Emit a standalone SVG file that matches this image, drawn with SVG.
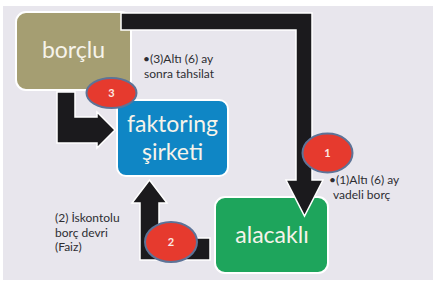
<svg xmlns="http://www.w3.org/2000/svg" width="441" height="286" viewBox="0 0 441 286">
<style>
.box{stroke:#ffffff;stroke-width:2}
.big{font-family:Lato,"Open Sans",sans-serif;font-size:23px;fill:#f6f3ea;text-anchor:middle}
.arrow{fill:#1b1a1d;stroke:#ffffff;stroke-width:1.5;stroke-linejoin:miter}
.badge{fill:#e63a2e;stroke:#5d7397;stroke-width:2}
.num{font-family:Lato,"Open Sans",sans-serif;font-size:11px;font-weight:bold;fill:#fbe9e4;text-anchor:middle}
.lbl{font-family:Lato,"Open Sans",sans-serif;font-size:12px;fill:#2e2e33}
</style>
<rect x="0" y="0" width="441" height="286" fill="#ffffff"/>
<rect x="3" y="6" width="430" height="274" fill="#e8e6ed"/>
<g id="borclu">
<rect class="box" x="16" y="12" width="115" height="78" rx="10" fill="#a59e72"/>
<text class="big" x="73.5" y="58">borçlu</text>
</g>
<g id="faktoring">
<rect class="box" x="117" y="100" width="111" height="76" rx="9" fill="#0f86c5"/>
<text class="big" x="172.5" y="132">faktoring</text>
<text class="big" x="172.5" y="160">şirketi</text>
</g>
<g id="alacakli">
<rect class="box" x="215" y="197" width="113" height="76" rx="10" fill="#1ea55c"/>
<text class="big" x="272" y="243">alacaklı</text>
</g>
<g id="connectors">
<path class="arrow" d="M121,13 H312 V180 H323 L304.5,216 L286,180 H296 V30 H121 Z"/>
<path class="arrow" d="M140,260 V203 H132 L149.5,180 L167,203 H159 V238 H210 V260 Z"/>
<path class="arrow" d="M57,92 H75 V117 H97 V112 L115,130 L97,148 V143 H57 Z"/>
<g id="badge1">
<ellipse class="badge" cx="327.5" cy="153" rx="25" ry="19.5"/>
<text class="num" x="327.5" y="157">1</text>
</g>
<g id="badge2">
<ellipse class="badge" cx="171" cy="242" rx="26" ry="20"/>
<text class="num" x="171" y="246">2</text>
</g>
<g id="badge3">
<ellipse class="badge" cx="111.5" cy="93" rx="25" ry="15"/>
<text class="num" x="111.5" y="97">3</text>
</g>
<text class="lbl" x="143" y="63">•(3)Altı (6) ay</text>
<text class="lbl" x="144" y="77.5">sonra tahsilat</text>
<text class="lbl" x="329" y="184">•(1)Altı (6) ay</text>
<text class="lbl" x="333" y="198.5">vadeli borç</text>
<text class="lbl" x="55" y="222">(2) İskontolu</text>
<text class="lbl" x="55" y="236.5">borç devri</text>
<text class="lbl" x="55" y="251">(Faiz)</text>
</g>
</svg>
